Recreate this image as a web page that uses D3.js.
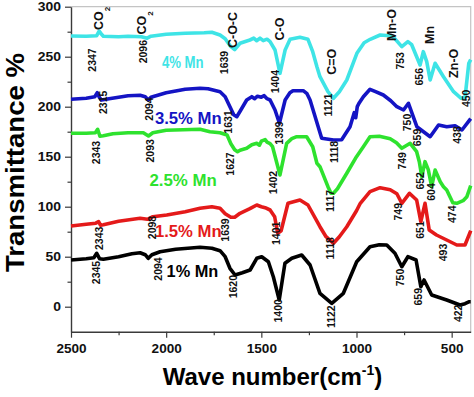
<!DOCTYPE html>
<html>
<head>
<meta charset="utf-8">
<script src="https://cdn.jsdelivr.net/npm/d3@7"></script>
<style>
  body { margin: 0; background: #fff; }
  svg { display: block; font-family: "Liberation Sans", Arial, sans-serif; }
</style>
</head>
<body>
<svg id="chart" width="474" height="397"></svg>
<script>
// spectra, [wave number, transmittance]
const mn4 = [[2500,270.7],[2420,270.5],[2365,271],[2352,275.5],[2342,273],[2330,270.5],[2250,270],[2200,270.5],[2130,270],[2100,268.5],[2080,270.5],[2000,272.5],[1900,273.5],[1800,274],[1760,274.5],[1717,271.7],[1690,268],[1660,260],[1640,257],[1612,263.4],[1580,265.5],[1560,266.7],[1540,268.5],[1525,266],[1507,268.5],[1490,266],[1470,267.5],[1454,265],[1428,256.7],[1402,233.4],[1375,256.7],[1349,267.4],[1297,269.4],[1255,267.4],[1230,255],[1208,240],[1192,230],[1150,215],[1121,208.4],[1090,215],[1051,226.7],[998,253.4],[960,264],[928,267.4],[876,271.7],[823,271],[800,268.4],[762,260],[730,265],[710,262],[666,241.7],[649,255],[631,245],[613,226.7],[587,243.4],[543,230],[490,215],[450,208.4],[430,209],[410,243.4],[400,247]];
const mn35 = [[2500,207.4],[2420,208.5],[2375,210],[2362,214],[2350,209],[2340,206.7],[2300,208],[2200,211],[2137,211.5],[2110,210],[2094,206.7],[2080,209.5],[2000,214],[1900,217.5],[1822,218.4],[1780,218],[1717,215],[1690,210],[1665,200],[1645,192],[1629,190],[1610,196],[1577,206.7],[1550,210],[1535,208],[1520,210.5],[1500,209.5],[1485,211],[1470,208],[1454,206.7],[1428,196.7],[1405,183.4],[1375,206.7],[1350,214],[1334,216],[1280,216],[1260,213],[1244,206.7],[1183,168.4],[1121,166.7],[1078,167],[1034,180],[1012,194],[1004,189],[996,200],[985,204],[964,210],[929,217.4],[900,215],[859,211.7],[820,206],[788,200],[753,196.7],[727,203.4],[683,180],[613,170],[569,181.7],[526,180],[482,181],[446,176.7],[412,185],[400,188]];
const mn25 = [[2500,173.4],[2420,173.4],[2372,174],[2360,177.4],[2348,170.5],[2330,171],[2280,173],[2200,174],[2120,174],[2093,170.7],[2070,174],[2000,176.5],[1822,177.4],[1770,175],[1717,174],[1680,171.7],[1660,163],[1640,157],[1625,155],[1612,156.5],[1577,158.4],[1550,162],[1524,163.4],[1510,161.5],[1500,165.5],[1480,167],[1470,164.5],[1454,163],[1441,160],[1402,131.7],[1367,163.4],[1340,168],[1314,170],[1262,170],[1230,160],[1208,143.4],[1192,140],[1150,120],[1134,113.4],[1121,113.5],[1100,118],[1051,133.4],[1000,150],[964,160],[929,170],[880,170.5],[823,168],[790,164],[762,158.4],[718,163.4],[684,155],[670,145],[657,130],[640,145],[623,137],[605,120],[587,136.7],[560,125],[543,120],[526,116.7],[494,104],[473,103.4],[440,106],[420,110],[408,116.7],[400,121]];
const mn15 = [[2500,80.7],[2420,82.5],[2370,83.5],[2355,85],[2345,81.5],[2330,82],[2250,85.5],[2137,88.4],[2098,87.4],[2070,90],[1997,91.7],[1900,95],[1822,98.4],[1760,100],[1717,98.4],[1690,93],[1660,89.4],[1640,89.4],[1612,93.4],[1560,98],[1524,101.7],[1500,100],[1480,99],[1454,96.7],[1430,90],[1414,73.4],[1396,76],[1360,103.4],[1297,106.7],[1255,101.7],[1192,80],[1160,70],[1121,63.4],[1090,70],[1051,80],[1000,96],[980,103.4],[929,115],[876,119],[823,117],[788,113],[762,103.4],[722,113.4],[684,106.7],[662,85],[640,103.4],[618,76.7],[580,71.7],[526,66.7],[473,61.7],[430,61.7],[405,73.4],[400,76]];
const mn1 = [[2500,46.7],[2420,48],[2380,49],[2365,53.4],[2350,48],[2330,47.4],[2250,50],[2180,53],[2137,54],[2110,52],[2094,48.4],[2075,52],[2032,55],[1950,57.5],[1822,59.4],[1760,58.5],[1717,56],[1690,50],[1665,38.4],[1638,31.7],[1600,34],[1559,36.7],[1524,48.4],[1498,50],[1463,45],[1437,30],[1406,6.7],[1376,43.4],[1340,48.4],[1288,51.7],[1244,41.7],[1192,13.4],[1130,3.4],[1069,13.4],[999,45],[929,60],[880,62],[841,61.7],[798,53.4],[762,40],[730,50],[687,46.7],[662,20],[645,26.7],[605,11.7],[526,6.7],[456,1.7],[430,3],[407,5],[400,5]];

const seriesNames = ["4% Mn", "3.5% Mn", "2.5% Mn", "1.5% Mn", "1% Mn"];
const seriesColors = ["#3ee4e6", "#1414c4", "#2ee22e", "#e41a1a", "#000000"];
const seriesData = [mn4, mn35, mn25, mn15, mn1];
// where each name sits, [wave number, transmittance]
const nameSpots = [[1913,244],[1884,188.4],[1911,126.7],[1884,75],[1862,35]];
const nameWidths = [41.7, 66.7, 67.3, 66.7, 51.7];

// peak numbers, [text, wave number, transmittance]
const peaks = [
  ["2347",2386,246.7],["2096",2120,255],["1639",1694,244.2],["1404",1428,225],["1121",1148,201.7],["753",771,245.9],["656",670,230],["450",425,208.4],
  ["2315",2330,204.4],["2094",2090,197.7],["1631",1673,184.7],["1399",1405,173.7],["1118",1118,154.7],["750",731,184.2],["659",678,169.2],["438",468,171.7],
  ["2343",2369,154.2],["2093",2085,155.9],["1627",1665,142.7],["1402",1437,124.2],["1117",1139,105.7],["749",757,145.9],["652",663,125.9],["604",605,114.7],["474",494,92.5],
  ["2343",2351,68.4],["2098",2071,79.2],["1639",1691,76.7],["1401",1419,73.4],["1118",1139,58.4],["749",780,95],["651",666,76.7],["493",544,54.2],
  ["2345",2365,34.2],["2094",2041,37.7],["1620",1647,20],["1400",1411,-4.1],["1122",1130,-10],["750",771,29.2],["659",675,10],["422",465,-6.6]
];
// band names, [text, subscript, wave number, transmittance]
const bands = [["CO","2",2357,288.2],["CO","2",2128,283.7],["C-O-C","",1650,276.7],["C-O","",1402,277.7],["C=O","",1130,245],["Mn-O","",815,281.7],["Mn","",614,271.7],["Zn-O","",491,243.4]];

const xTicks = [2500, 2000, 1500, 1000, 500];
const xMinor = [2250, 1750, 1250, 750];
const yTicks = [0, 50, 100, 150, 200, 250, 300];
const yMinor = [25, 75, 125, 175, 225, 275];

const svg = d3.select("#chart");
const plotLeft = 71, plotRight = 470.7, plotTop = 6.7, plotBottom = 331.7;

const x = d3.scaleLinear().domain([2500, 400]).range([plotLeft, plotRight]);
const y = d3.scaleLinear().domain([-25, 300]).range([plotBottom, plotTop]);

// light frame top and right
svg.append("path")
  .attr("d", `M${plotLeft},${plotTop}H${plotRight}V${plotBottom}`)
  .attr("fill", "none").attr("stroke", "#c4c4c4").attr("stroke-width", 1.2);

const stretch = function(k) {
  return function() {
    const n = this.getComputedTextLength();
    d3.select(this).attr("textLength", n * k).attr("lengthAdjust", "spacingAndGlyphs");
  };
};

const gx = svg.append("g").attr("transform", `translate(0,${plotBottom})`)
  .call(d3.axisBottom(x).tickValues(xTicks).tickSize(6).tickSizeOuter(0).tickPadding(7).tickFormat(d3.format("d")));
svg.append("g").attr("transform", `translate(0,${plotBottom})`)
  .call(d3.axisBottom(x).tickValues(xMinor).tickSize(3.5).tickFormat(""))
  .call(g => g.select(".domain").remove());

const gy = svg.append("g").attr("transform", `translate(${plotLeft},0)`)
  .call(d3.axisLeft(y).tickValues(yTicks).tickSize(6).tickSizeOuter(0).tickPadding(4));
svg.append("g").attr("transform", `translate(${plotLeft},0)`)
  .call(d3.axisLeft(y).tickValues(yMinor).tickSize(3.5).tickFormat(""))
  .call(g => g.select(".domain").remove());

svg.selectAll(".domain").attr("stroke", "#3a3a3a").attr("stroke-width", 1.4);
svg.selectAll(".tick line").attr("stroke", "#3a3a3a").attr("stroke-width", 1.2);
svg.selectAll(".tick text").attr("font-family", "Liberation Sans, Arial, sans-serif")
  .attr("font-size", 12).attr("font-weight", "bold").attr("fill", "#111");
gx.selectAll(".tick text").each(stretch(1.13));
gy.selectAll(".tick text").each(stretch(1.16));

// spectra
const line = d3.line().x(d => x(d[0])).y(d => y(d[1]));
svg.selectAll(".spectrum").data(seriesData).join("path").attr("class", "spectrum")
  .attr("d", d => line(d))
  .attr("fill", "none")
  .attr("stroke", (d, i) => seriesColors[i])
  .attr("stroke-width", 3.6)
  .attr("stroke-linejoin", "round");

// series names
svg.selectAll(".sname").data(seriesNames).join("text").attr("class", "sname")
  .attr("x", (d, i) => x(nameSpots[i][0]))
  .attr("y", (d, i) => y(nameSpots[i][1]))
  .attr("dy", "0.35em")
  .attr("text-anchor", "middle")
  .attr("font-size", 16).attr("font-weight", "bold")
  .attr("fill", (d, i) => seriesColors[i])
  .attr("textLength", (d, i) => nameWidths[i])
  .attr("lengthAdjust", "spacingAndGlyphs")
  .text(d => d);

// peak numbers
svg.selectAll(".peak").data(peaks).join("text").attr("class", "peak")
  .attr("transform", d => `translate(${x(d[1])},${y(d[2])}) rotate(-90)`)
  .attr("dy", "0.35em")
  .attr("text-anchor", "middle")
  .attr("font-size", 10.5).attr("font-weight", "bold")
  .attr("fill", "#111")
  .text(d => d[0]);

// band names
const bandText = svg.selectAll(".band").data(bands).join("text").attr("class", "band")
  .attr("transform", d => `translate(${x(d[2])},${y(d[3])}) rotate(-90)`)
  .attr("dy", "0.35em")
  .attr("text-anchor", "middle")
  .attr("font-size", 12.5).attr("font-weight", "bold")
  .attr("fill", "#111");
bandText.append("tspan").text(d => d[0]);
bandText.filter(d => d[1]).append("tspan").attr("dy", 7).attr("font-size", 8).text(d => d[1]);

// axis titles
svg.append("text")
  .attr("transform", `translate(23.5,162.5) rotate(-90)`)
  .attr("text-anchor", "middle")
  .attr("font-size", 26).attr("font-weight", "bold")
  .attr("textLength", 219).attr("lengthAdjust", "spacingAndGlyphs")
  .text("Transmittance %");

const xt = svg.append("text")
  .attr("x", 272.5).attr("y", 385)
  .attr("text-anchor", "middle")
  .attr("font-size", 24).attr("font-weight", "bold");
xt.append("tspan").text("Wave number(cm");
xt.append("tspan").attr("font-size", 14).attr("dy", -10).text("-1");
xt.append("tspan").attr("dy", 10).text(")");
</script>
</body>
</html>
